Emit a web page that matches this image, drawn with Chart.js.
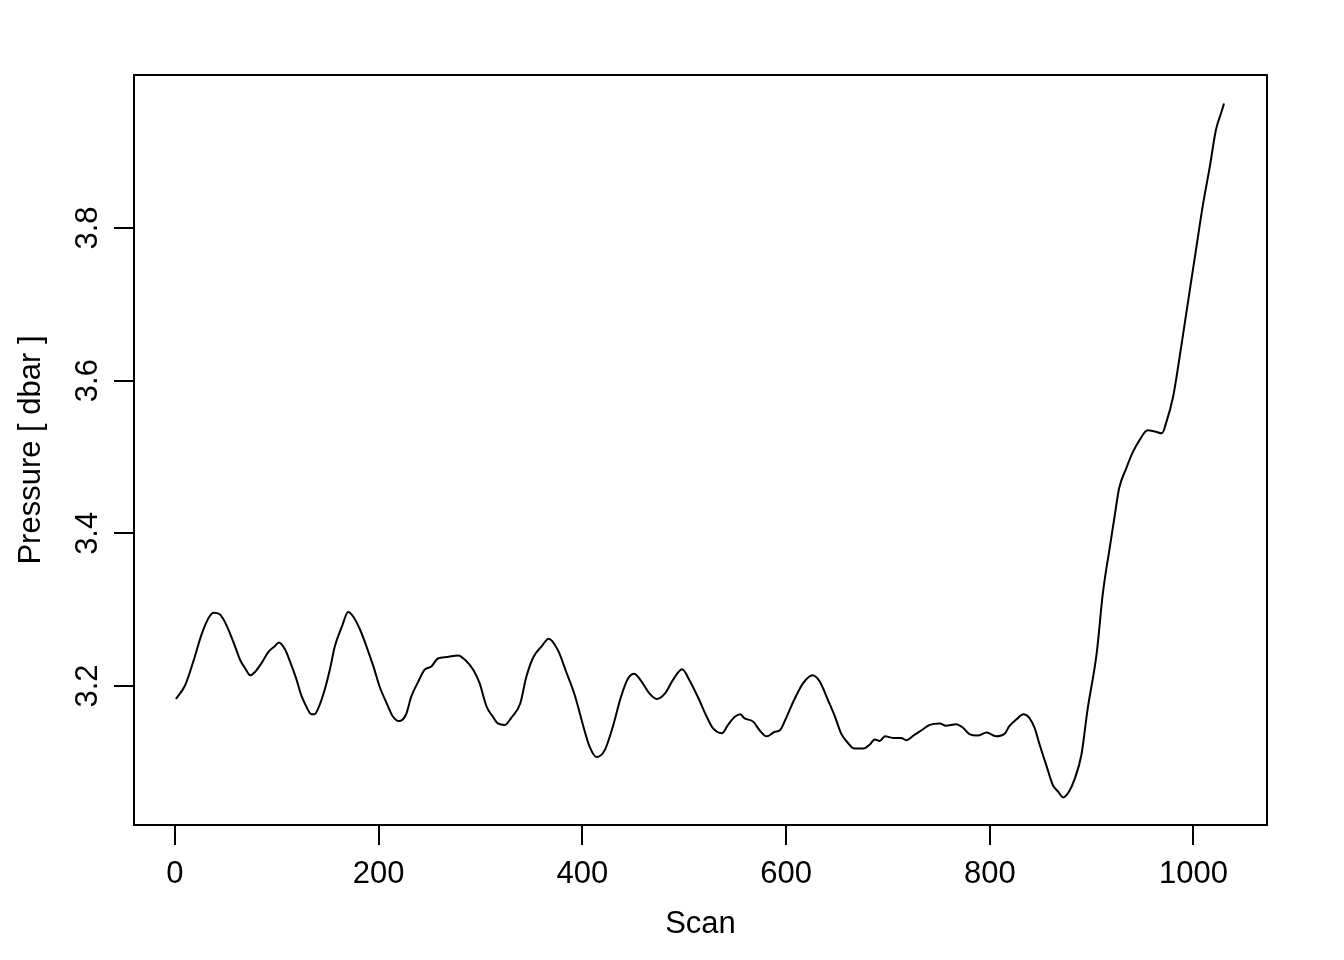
<!DOCTYPE html>
<html lang="en">
<head>
  <meta charset="UTF-8" />
  <title>Pressure vs Scan</title>
  <script src="https://cdn.jsdelivr.net/npm/chart.js"></script>
  <style>
    body {
      margin: 0;
      background: #ffffff;
    }
    #wrap {
      width: 1344px;
      height: 960px;
    }
  </style>
</head>
<body>
  <div id="wrap">
    <canvas id="chart" width="1344" height="960"></canvas>
  </div>

  <script>
    // scan index and pressure
    const scan = [
      1, 10, 18, 26, 33, 38, 44, 49, 54, 59,
      64, 69, 74, 79, 85, 92, 98, 102, 108, 113,
      119, 124, 129, 134, 137, 142, 147, 152, 157, 164,
      170, 175, 182, 188, 195, 201, 208, 214, 220, 227,
      232, 239, 245, 252, 258, 267, 278, 285, 293, 299,
      306, 312, 317, 324, 330, 339, 345, 352, 360, 367,
      376, 384, 393, 401, 407, 414, 422, 430, 438, 445,
      451, 458, 466, 473, 481, 489, 498, 505, 514, 522,
      528, 537, 543, 550, 555, 559, 568, 574, 581, 589,
      594, 600, 608, 617, 626, 633, 641, 648, 654, 661,
      667, 676, 682, 687, 692, 697, 705, 713, 718, 726,
      733, 741, 751, 757, 767, 774, 780, 788, 797, 806,
      815, 819, 826, 833, 839, 844, 849, 856, 862, 867,
      872, 878, 883, 890, 896, 905, 911, 918, 923, 927,
      934, 940, 947, 955, 963, 969, 973, 980, 988, 996,
      1003, 1009, 1016, 1022, 1027, 1030
    ];
    const pressure = [
      3.183, 3.201, 3.232, 3.267, 3.289, 3.296, 3.294, 3.284, 3.269, 3.252,
      3.234, 3.223, 3.214, 3.219, 3.230, 3.245, 3.252, 3.257, 3.248, 3.232,
      3.210, 3.188, 3.173, 3.163, 3.163, 3.175, 3.195, 3.221, 3.252, 3.278,
      3.297, 3.291, 3.273, 3.252, 3.225, 3.199, 3.177, 3.160, 3.154, 3.163,
      3.186, 3.206, 3.221, 3.226, 3.236, 3.238, 3.240, 3.234, 3.221, 3.204,
      3.173, 3.160, 3.151, 3.149, 3.158, 3.177, 3.212, 3.238, 3.252, 3.262,
      3.247, 3.219, 3.186, 3.147, 3.121, 3.107, 3.116, 3.147, 3.186, 3.210,
      3.216, 3.206, 3.190, 3.183, 3.190, 3.208, 3.222, 3.208, 3.184, 3.160,
      3.145, 3.138, 3.149, 3.160, 3.163, 3.158, 3.153, 3.142, 3.134, 3.140,
      3.142, 3.158, 3.182, 3.204, 3.214, 3.206, 3.182, 3.160, 3.138, 3.125,
      3.118, 3.118, 3.123, 3.130, 3.128, 3.134, 3.132, 3.132, 3.129, 3.136,
      3.142, 3.149, 3.151, 3.148, 3.150, 3.145, 3.137, 3.135, 3.139, 3.134,
      3.138, 3.147, 3.156, 3.163, 3.158, 3.145, 3.123, 3.094, 3.070, 3.062,
      3.054, 3.062, 3.077, 3.110, 3.169, 3.243, 3.321, 3.383, 3.426, 3.459,
      3.485, 3.505, 3.522, 3.535, 3.533, 3.531, 3.544, 3.579, 3.645, 3.715,
      3.776, 3.828, 3.880, 3.928, 3.950, 3.963
    ];
    const xTicks = [0, 200, 400, 600, 800, 1000];
    const yTicks = [3.2, 3.4, 3.6, 3.8];

    const FONT = { family: "'Liberation Sans', Arial, Helvetica, sans-serif", size: 31 };

    // frame round the plot area, like R's box()
    const boxPlugin = {
      id: 'box',
      afterDraw(c) {
        const a = c.chartArea;
        const ctx = c.ctx;
        ctx.save();
        ctx.strokeStyle = '#000';
        ctx.lineWidth = 2;
        ctx.strokeRect(a.left, a.top, a.right - a.left, a.bottom - a.top);
        ctx.restore();
      }
    };

    const ctx = document.getElementById('chart').getContext('2d');
    new Chart(ctx, {
      type: 'line',
      data: {
        datasets: [{
          data: scan.map((s, i) => ({ x: s, y: pressure[i] })),
          borderColor: '#000',
          borderWidth: 2,
          pointRadius: 0,
          fill: false,
          cubicInterpolationMode: 'monotone'
        }]
      },
      options: {
        responsive: false,
        animation: false,
        layout: { padding: { left: 0, top: 75, right: 77, bottom: 0 } },
        plugins: {
          legend: { display: false },
          tooltip: { enabled: false }
        },
        scales: {
          x: {
            type: 'linear',
            min: -40.2,
            max: 1072.2,
            afterBuildTicks: s => { s.ticks = xTicks.map(v => ({ value: v })); },
            afterFit: s => { s.height = 135; },
            grid: { drawOnChartArea: false, drawTicks: true, tickLength: 20, color: '#000', lineWidth: 2 },
            border: { display: true, color: '#000', width: 2 },
            ticks: {
              color: '#000',
              font: FONT,
              padding: 11,
              maxRotation: 0,
              callback: v => String(v)
            },
            title: {
              display: true,
              text: 'Scan',
              color: '#000',
              font: FONT,
              padding: { top: 0, bottom: 17 }
            }
          },
          y: {
            min: 3.0179,
            max: 4.0004,
            afterBuildTicks: s => { s.ticks = yTicks.map(v => ({ value: v })); },
            afterFit: s => { s.width = 134; },
            grid: { drawOnChartArea: false, drawTicks: true, tickLength: 20, color: '#000', lineWidth: 2 },
            border: { display: true, color: '#000', width: 2 },
            ticks: {
              color: '#000',
              font: FONT,
              padding: 4,
              minRotation: 90,
              maxRotation: 90,
              crossAlign: 'center',
              callback: v => v.toFixed(1)
            },
            title: {
              display: true,
              text: 'Pressure [ dbar ]',
              color: '#000',
              font: FONT,
              padding: { top: 13, bottom: 0 }
            }
          }
        }
      },
      plugins: [boxPlugin]
    });
  </script>
</body>
</html>
